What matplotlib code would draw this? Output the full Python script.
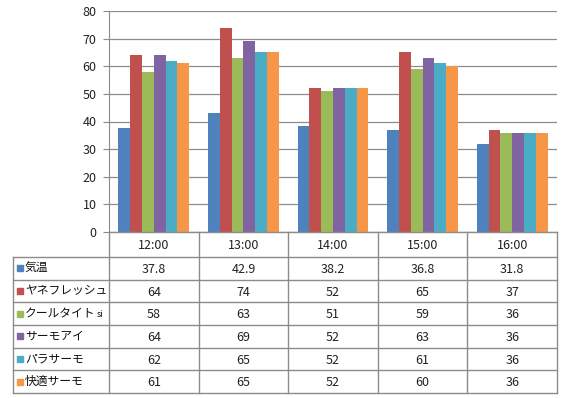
import matplotlib
matplotlib.use("Agg")
import matplotlib.pyplot as plt
from matplotlib.patches import Rectangle

plt.rcParams['font.family'] = ['Noto Sans CJK JP', 'DejaVu Sans']

times = ["12:00", "13:00", "14:00", "15:00", "16:00"]
series_names = ["気温", "ヤネフレッシュ", "クールタイト", "サーモアイ", "パラサーモ", "快適サーモ"]
name_suffix = ["", "", "si", "", "", ""]
kion = [37.8, 42.9, 38.2, 36.8, 31.8]
yane_fresh = [64, 74, 52, 65, 37]
cool_tight = [58, 63, 51, 59, 36]
thermo_eye = [64, 69, 52, 63, 36]
para_thermo = [62, 65, 52, 61, 36]
kaiteki_thermo = [61, 65, 52, 60, 36]
all_values = [kion, yane_fresh, cool_tight, thermo_eye, para_thermo, kaiteki_thermo]
colors = ["#4F81BD", "#C0504D", "#9BBB59", "#8064A2", "#4BACC6", "#F79646"]

W, H = 570, 398
fig = plt.figure(figsize=(W / 100, H / 100), dpi=100)

# chart area in pixels
left, right, top, bottom = 109, 557, 11, 232
ax = fig.add_axes([left / W, 1 - bottom / H, (right - left) / W, (bottom - top) / H])

n = len(series_names)
group_w = 0.79
bw = group_w / n
for i, (vals, c) in enumerate(zip(all_values, colors)):
    xs = [k - group_w / 2 + bw * (i + 0.5) for k in range(len(times))]
    ax.bar(xs, vals, width=bw, color=c, zorder=3)

ax.set_xlim(-0.5, len(times) - 0.5)
ax.set_ylim(0, 80)
ax.set_yticks(range(0, 81, 10))
ax.grid(axis='y', color='#8c8c8c', linewidth=0.9, zorder=0)
ax.set_xticks([])
for s in ['top', 'right', 'bottom']:
    ax.spines[s].set_visible(False)
ax.spines['left'].set_color('#8c8c8c')
ax.tick_params(axis='y', length=4, color='#8c8c8c', labelsize=9, pad=5,
               labelcolor='#222222')

# data table below, drawn in pixel coords
tab = fig.add_axes([0, 0, 1, 1])
tab.set_xlim(0, W)
tab.set_ylim(H, 0)
tab.axis('off')

line_c = '#8c8c8c'
tab_left = 13
header_bot = 257
row_h = (393 - header_bot) / n
table_bot = header_bot + row_h * n
col_w = (right - left) / len(times)

# horizontal lines
tab.plot([left, right], [bottom, bottom], color=line_c, lw=1)
for r in range(n + 1):
    y = header_bot + r * row_h
    tab.plot([tab_left, right], [y, y], color=line_c, lw=1)
# vertical lines
tab.plot([tab_left, tab_left], [header_bot, table_bot], color=line_c, lw=1)
for k in range(len(times) + 1):
    x = left + k * col_w
    tab.plot([x, x], [bottom, table_bot], color=line_c, lw=1)

for k, t in enumerate(times):
    tab.text(left + (k + 0.5) * col_w, (bottom + header_bot) / 2 + 1, t,
             ha='center', va='center', fontsize=9, color='#222222')

for r, (name, suf, vals, c) in enumerate(zip(series_names, name_suffix, all_values, colors)):
    yc = header_bot + (r + 0.5) * row_h
    tab.add_patch(Rectangle((17, yc - 3), 6, 6, color=c))
    t = tab.text(25, yc, name, ha='left', va='center', fontsize=8.5, color='#111111')
    if suf:
        fig.canvas.draw()
        bb = t.get_window_extent()
        x_end = bb.x1
        tab.text(x_end + 1, yc + 1, suf, ha='left', va='center', fontsize=6.5,
                 color='#111111')
    for k, v in enumerate(vals):
        tab.text(left + (k + 0.5) * col_w, yc + 1, f"{v:g}",
                 ha='center', va='center', fontsize=9, color='#222222')

fig.savefig("out.png", dpi=100)
